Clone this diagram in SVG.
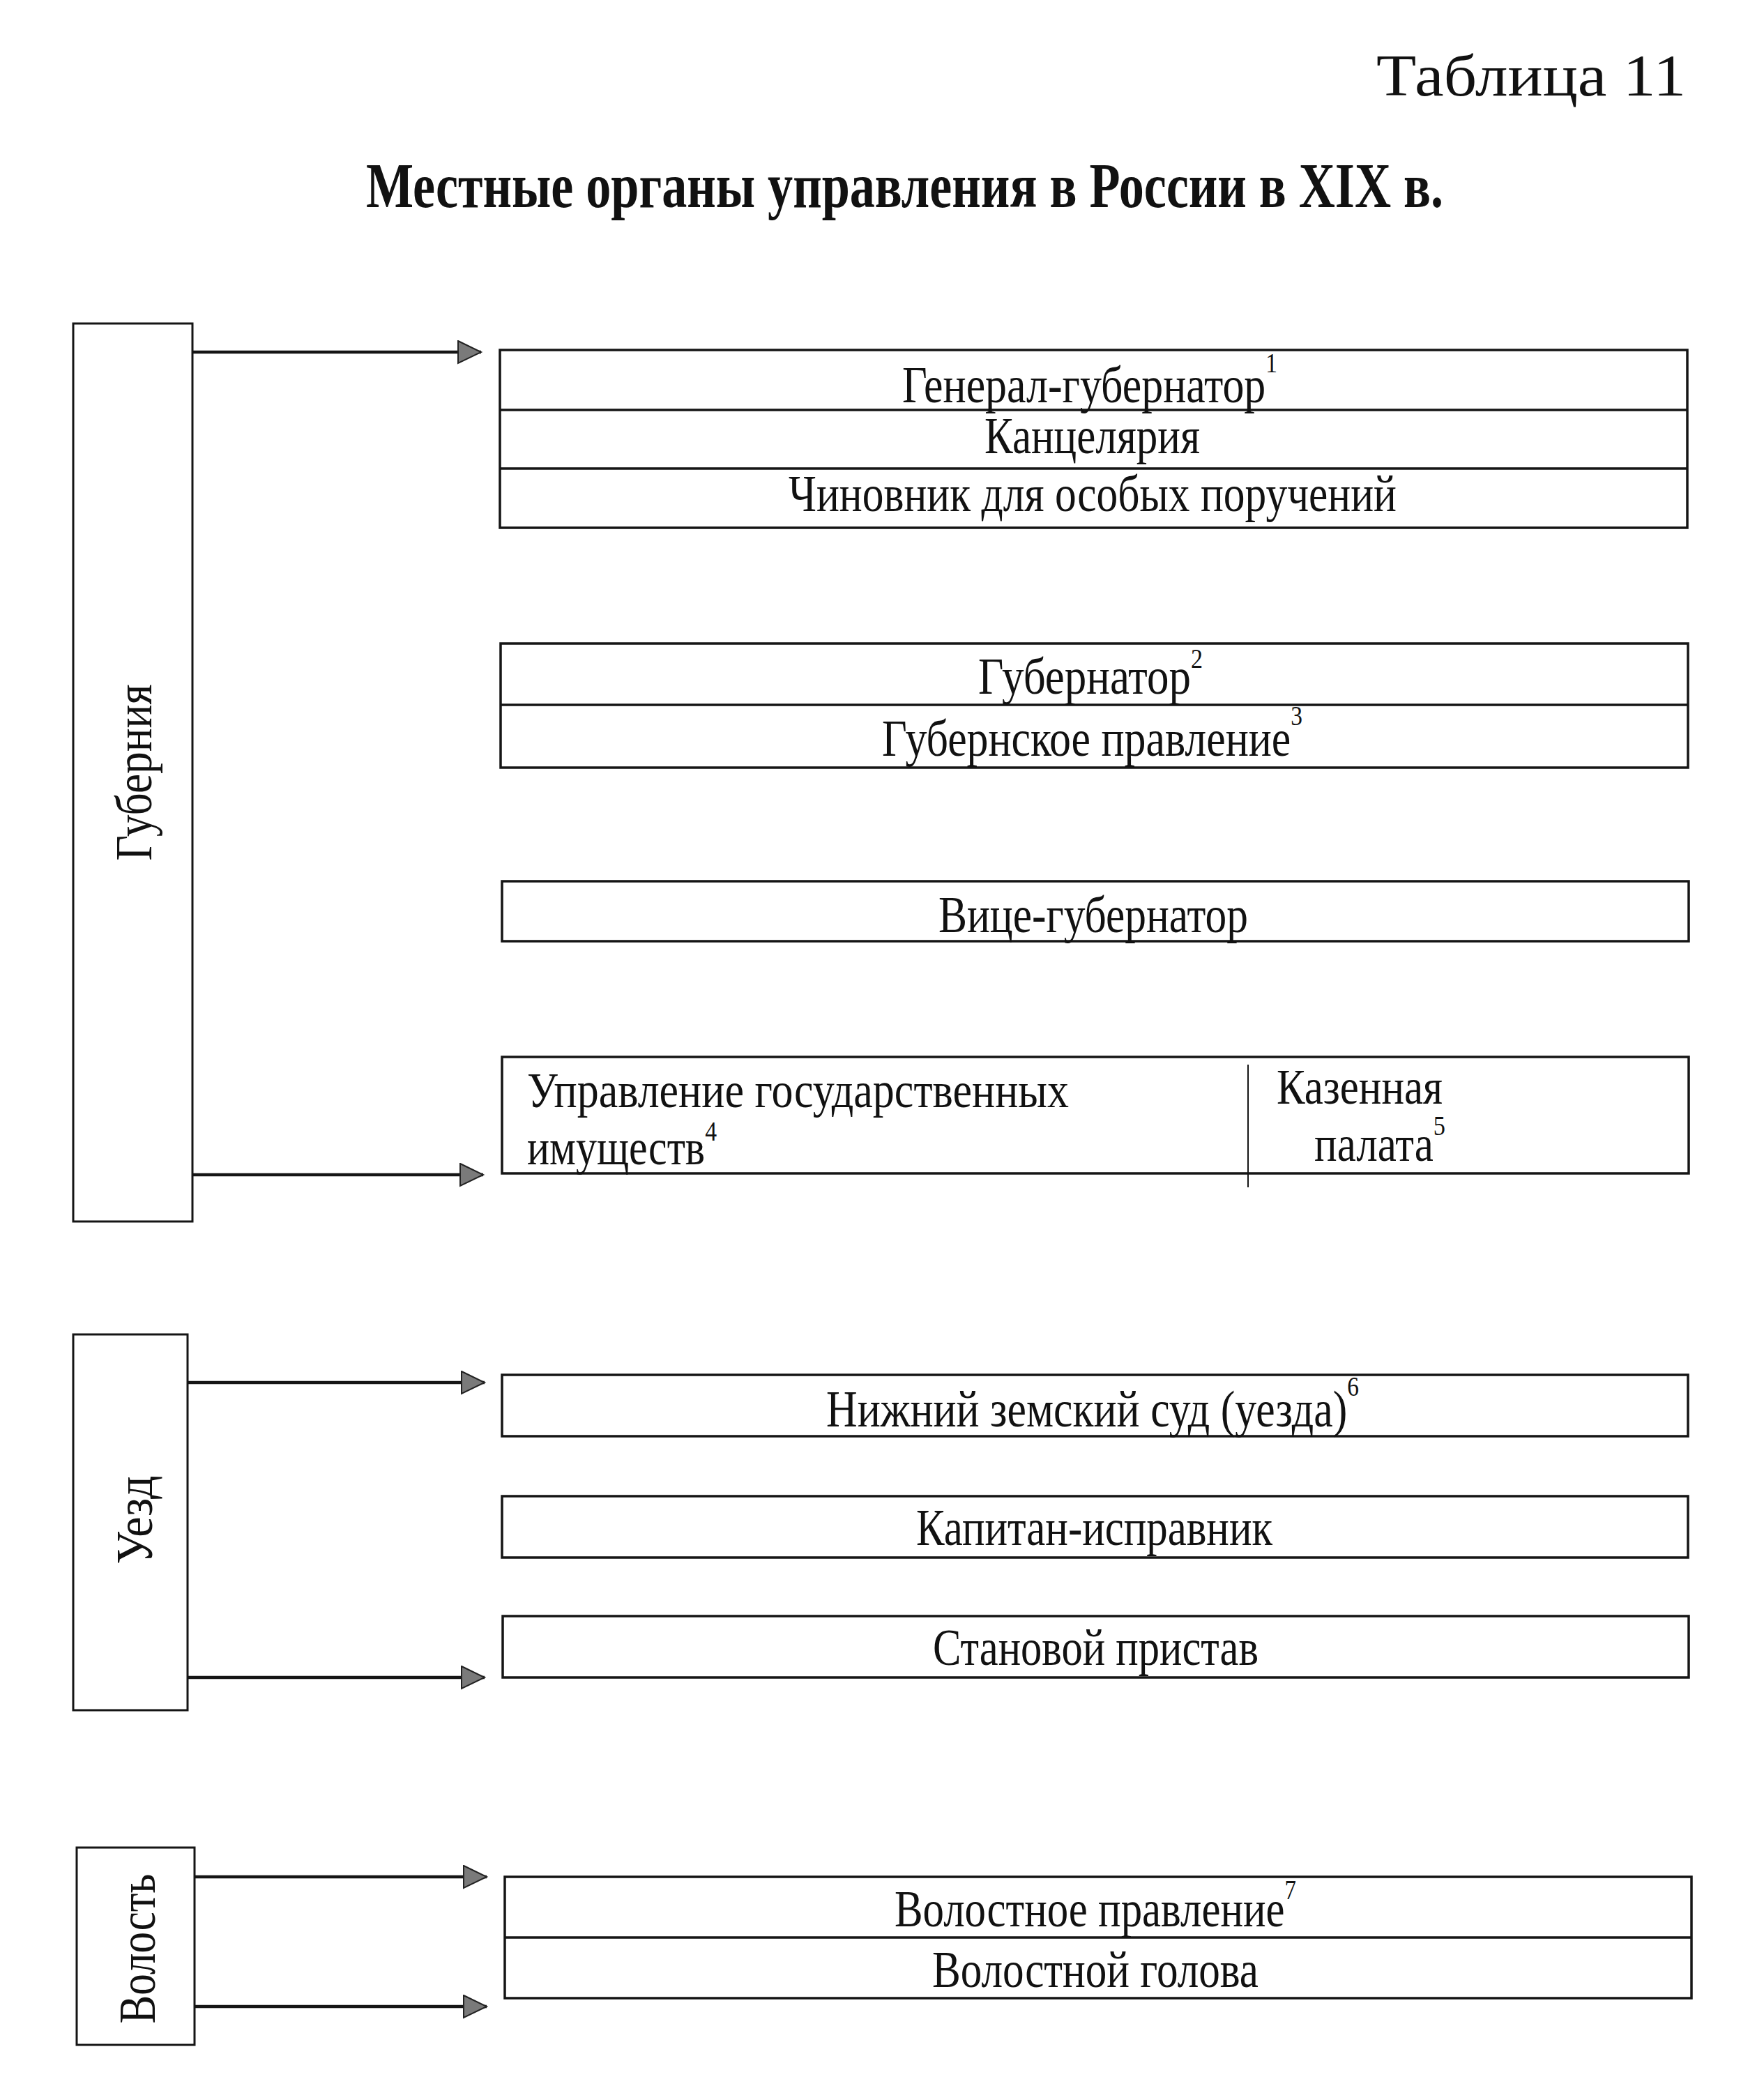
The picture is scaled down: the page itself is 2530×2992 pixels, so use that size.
<svg xmlns="http://www.w3.org/2000/svg" width="2530" height="2992" viewBox="0 0 2530 2992">
<style>
.bg{fill:#ffffff}
.box{fill:#ffffff;stroke:#151515;stroke-width:3.5}
.side{fill:#ffffff;stroke:#151515;stroke-width:3}
.ln{stroke:#151515;stroke-width:3.5;fill:none}
.thin{stroke:#151515;stroke-width:2;fill:none}
.t{font-family:"Liberation Serif","Times New Roman",serif;font-size:74px;fill:#111111}
.t2{font-family:"Liberation Serif","Times New Roman",serif;font-size:71px;fill:#111111}
.sup{font-size:40px}
.head{font-family:"Liberation Serif","Times New Roman",serif;font-size:84px;fill:#111111}
.title{font-family:"Liberation Serif","Times New Roman",serif;font-size:92px;font-weight:bold;fill:#111111}
.arr{stroke:#151515;stroke-width:4.5;fill:none;marker-end:url(#ah)}
</style>
<defs>
<marker id="ah" markerUnits="userSpaceOnUse" markerWidth="40" markerHeight="40" refX="34" refY="17" orient="auto">
<path d="M1,1 L34,17 L1,33 Z" fill="#7a7a7a" stroke="#222222" stroke-width="2"/>
</marker>
</defs>
<rect class="bg" x="0" y="0" width="2530" height="2992"/>

<g id="header">
<text class="head" x="1974" y="137" textLength="444" lengthAdjust="spacingAndGlyphs">Таблица 11</text>
<text class="title" x="525" y="297" textLength="1545" lengthAdjust="spacingAndGlyphs">Местные органы управления в России в XIX в.</text>
</g>

<g id="connectors">
<line class="arr" x1="277" y1="505" x2="690" y2="505"/>
<line class="arr" x1="277" y1="1685" x2="693" y2="1685"/>
<line class="arr" x1="269" y1="1983" x2="695" y2="1983"/>
<line class="arr" x1="269" y1="2406" x2="695" y2="2406"/>
<line class="arr" x1="279" y1="2692" x2="698" y2="2692"/>
<line class="arr" x1="279" y1="2878" x2="698" y2="2878"/>
</g>

<g id="gubernia">
<rect class="side" x="105" y="464" width="171" height="1288"/>
<text class="t" transform="translate(217,1108) rotate(-90)" text-anchor="middle" font-size="72" textLength="253" lengthAdjust="spacingAndGlyphs">Губерния</text>
</g>

<g id="uezd">
<rect class="side" x="105" y="1914" width="164" height="539"/>
<text class="t" transform="translate(218,2180) rotate(-90)" text-anchor="middle" font-size="72" textLength="127" lengthAdjust="spacingAndGlyphs">Уезд</text>
</g>

<g id="volost">
<rect class="side" x="110" y="2650" width="169" height="283" fill="#f1f1f1"/>
<text class="t" transform="translate(222,2795) rotate(-90)" text-anchor="middle" font-size="72" textLength="215" lengthAdjust="spacingAndGlyphs">Волость</text>
</g>

<g id="general-gubernator">
<rect class="box" x="717" y="502" width="1703" height="255"/>
<line class="ln" x1="717" y1="588" x2="2420" y2="588"/>
<line class="ln" x1="717" y1="672" x2="2420" y2="672"/>
<text class="t" x="1294" y="577" textLength="538" lengthAdjust="spacingAndGlyphs">Генерал-губернатор<tspan class="sup" dy="-43">1</tspan></text>
<text class="t" x="1412" y="650" textLength="309" lengthAdjust="spacingAndGlyphs">Канцелярия</text>
<text class="t" x="1131" y="733" textLength="872" lengthAdjust="spacingAndGlyphs">Чиновник для особых поручений</text>
</g>

<g id="gubernator">
<rect class="box" x="718" y="923" width="1703" height="178"/>
<line class="ln" x1="718" y1="1011" x2="2421" y2="1011"/>
<text class="t" x="1403" y="995" textLength="322" lengthAdjust="spacingAndGlyphs">Губернатор<tspan class="sup" dy="-37">2</tspan></text>
<text class="t" x="1265" y="1084" textLength="603" lengthAdjust="spacingAndGlyphs">Губернское правление<tspan class="sup" dy="-44">3</tspan></text>
</g>

<g id="vice-gubernator">
<rect class="box" x="720" y="1264" width="1702" height="86"/>
<text class="t" x="1346" y="1337" textLength="444" lengthAdjust="spacingAndGlyphs">Вице-губернатор</text>
</g>

<g id="upravlenie-kazennaya">
<rect class="box" x="720" y="1516" width="1702" height="167"/>
<line class="thin" x1="1790" y1="1527" x2="1790" y2="1703"/>
<text class="t2" x="756" y="1588" textLength="777" lengthAdjust="spacingAndGlyphs">Управление государственных</text>
<text class="t2" x="756" y="1670" textLength="272" lengthAdjust="spacingAndGlyphs">имуществ<tspan class="sup" dy="-34">4</tspan></text>
<text class="t2" x="1831" y="1583" textLength="238" lengthAdjust="spacingAndGlyphs">Казенная</text>
<text class="t2" x="1885" y="1665" textLength="188" lengthAdjust="spacingAndGlyphs">палата<tspan class="sup" dy="-37">5</tspan></text>
</g>

<g id="nizhniy-sud">
<rect class="box" x="720" y="1972" width="1701" height="88"/>
<text class="t" x="1185" y="2046" textLength="764" lengthAdjust="spacingAndGlyphs">Нижний земский суд (уезда)<tspan class="sup" dy="-44">6</tspan></text>
</g>

<g id="kapitan-ispravnik">
<rect class="box" x="720" y="2146" width="1701" height="88"/>
<text class="t" x="1314" y="2216" textLength="511" lengthAdjust="spacingAndGlyphs">Капитан-исправник</text>
</g>

<g id="stanovoy-pristav">
<rect class="box" x="721" y="2318" width="1701" height="88"/>
<text class="t" x="1338" y="2388" textLength="467" lengthAdjust="spacingAndGlyphs">Становой пристав</text>
</g>

<g id="volostnoe">
<rect class="box" x="724" y="2692" width="1702" height="174"/>
<line class="ln" x1="724" y1="2779" x2="2426" y2="2779"/>
<text class="t" x="1283" y="2763" textLength="576" lengthAdjust="spacingAndGlyphs">Волостное правление<tspan class="sup" dy="-39">7</tspan></text>
<text class="t" x="1337" y="2850" textLength="468" lengthAdjust="spacingAndGlyphs">Волостной голова</text>
</g>
</svg>
